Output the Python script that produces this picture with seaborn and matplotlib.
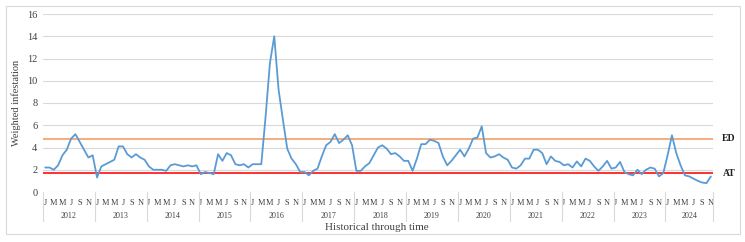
import matplotlib
matplotlib.use("Agg")
import matplotlib.pyplot as plt
import matplotlib.transforms as mtransforms
import seaborn as sns
import numpy as np
import pandas as pd

# ---------------- data ----------------
years = ["2012", "2013", "2014", "2015", "2016", "2017", "2018",
         "2019", "2020", "2021", "2022", "2023", "2024"]
month_letters = ["J", "F", "M", "A", "M", "J", "J", "A", "S", "O", "N", "D"]

val_2012 = [2.2, 2.2, 2.0, 2.4, 3.3, 3.8, 4.8, 5.2, 4.5, 3.8, 3.1, 3.3]
val_2013 = [1.3, 2.3, 2.5, 2.7, 2.9, 4.1, 4.1, 3.4, 3.1, 3.4, 3.1, 2.9]
val_2014 = [2.3, 2.0, 2.0, 2.0, 1.9, 2.4, 2.5, 2.4, 2.3, 2.4, 2.3, 2.4]
val_2015 = [1.6, 1.8, 1.7, 1.6, 3.4, 2.8, 3.5, 3.3, 2.5, 2.4, 2.5, 2.2]
val_2016 = [2.5, 2.5, 2.5, 6.8, 11.6, 14.0, 9.2, 6.5, 3.9, 3.0, 2.5, 1.8]
val_2017 = [1.8, 1.5, 1.9, 2.1, 3.2, 4.2, 4.5, 5.2, 4.4, 4.7, 5.1, 4.2]
val_2018 = [1.9, 1.9, 2.3, 2.6, 3.3, 4.0, 4.2, 3.9, 3.4, 3.5, 3.2, 2.8]
val_2019 = [2.8, 1.9, 3.0, 4.3, 4.3, 4.7, 4.6, 4.4, 3.2, 2.4, 2.8, 3.3]
val_2020 = [3.8, 3.2, 3.9, 4.8, 4.9, 5.9, 3.5, 3.1, 3.2, 3.4, 3.1, 2.9]
val_2021 = [2.2, 2.1, 2.4, 3.0, 3.0, 3.8, 3.8, 3.5, 2.5, 3.2, 2.8, 2.7]
val_2022 = [2.4, 2.5, 2.2, 2.75, 2.3, 3.0, 2.8, 2.3, 1.9, 2.3, 2.8, 2.1]
val_2023 = [2.2, 2.7, 1.8, 1.6, 1.5, 2.0, 1.6, 2.0, 2.2, 2.1, 1.4, 1.7]
val_2024 = [3.3, 5.1, 3.5, 2.4, 1.5, 1.4, 1.2, 1.0, 0.85, 0.8, 1.4]

ED_level = 4.8
AT_level = 1.7
threshold_names = ["ED", "AT"]

y_ticks = [0, 2, 4, 6, 8, 10, 12, 14, 16]

# ---------------- build table ----------------
all_vals = (val_2012 + val_2013 + val_2014 + val_2015 + val_2016 + val_2017 +
            val_2018 + val_2019 + val_2020 + val_2021 + val_2022 + val_2023 +
            val_2024)
n = len(all_vals)
df = pd.DataFrame({"idx": np.arange(n), "value": all_vals})

# ---------------- style ----------------
sns.set_theme(style="white")
plt.rcParams["font.family"] = ["Liberation Serif", "DejaVu Serif"]

W, H = 745, 242
fig = plt.figure(figsize=(W / 100, H / 100), dpi=100)
left, right, top, bottom = 43, 713, 14, 192
ax = fig.add_axes([left / W, 1 - bottom / H, (right - left) / W, (bottom - top) / H])

# chart-area border
fig.patches.append(plt.Rectangle((6 / W, 1 - 234 / H), (740 - 6) / W, (234 - 6) / H,
                                 transform=fig.transFigure, fill=False,
                                 edgecolor="#D9D9D9", linewidth=0.8))

for yt in y_ticks:
    ax.axhline(yt, color="#D9D9D9", linewidth=0.8, zorder=0)

sns.lineplot(data=df, x="idx", y="value", ax=ax, color="#5B9BD5",
             linewidth=1.3, zorder=3)

ax.axhline(ED_level, color="#F4A66F", linewidth=1.3, zorder=2)
ax.axhline(AT_level, color="#FF2020", linewidth=1.3, zorder=2)

ax.set_xlim(-0.5, n - 0.5)
ax.set_ylim(0, 16)
ax.set_yticks(y_ticks)
ax.set_yticklabels([str(t) for t in y_ticks], fontsize=7.5, color="#404040")

xt = list(range(0, n, 2))
ax.set_xticks(xt)
ax.set_xticklabels([month_letters[i % 12] for i in xt], fontsize=6, color="#404040")
ax.tick_params(axis="both", length=0, pad=4)
ax.tick_params(axis="x", pad=5)

for s in ax.spines.values():
    s.set_visible(False)

ax.set_xlabel("")
ax.set_ylabel("")

trans = mtransforms.blended_transform_factory(ax.transData, ax.transAxes)
# year separators and labels
for k, yr in enumerate(years):
    start = 12 * k - 0.5
    end = min(12 * (k + 1), n) - 0.5
    ax.plot([start, start], [0, -0.163], transform=trans, color="#D9D9D9",
            linewidth=0.8, clip_on=False)
    ax.text((start + end) / 2, -0.135, yr, transform=trans, ha="center",
            va="center", fontsize=5.8, color="#404040")
ax.plot([n - 0.5, n - 0.5], [0, -0.163], transform=trans, color="#D9D9D9",
        linewidth=0.8, clip_on=False)

fig.text(377 / W, 1 - 228 / H, "Historical through time", ha="center",
         va="center", fontsize=8, color="#404040")
fig.text(16 / W, 1 - 103 / H, "Weighted infestation", ha="center",
         va="center", rotation=90, fontsize=7.5, color="#404040")

trans2 = mtransforms.blended_transform_factory(fig.transFigure, ax.transData)
ax.text(729 / W, ED_level, threshold_names[0], transform=trans2, ha="center",
        va="center", fontsize=7, fontweight="bold", color="#202020")
ax.text(729 / W, AT_level, threshold_names[1], transform=trans2, ha="center",
        va="center", fontsize=7, fontweight="bold", color="#202020")

fig.savefig("out.png", dpi=100, facecolor="white")
